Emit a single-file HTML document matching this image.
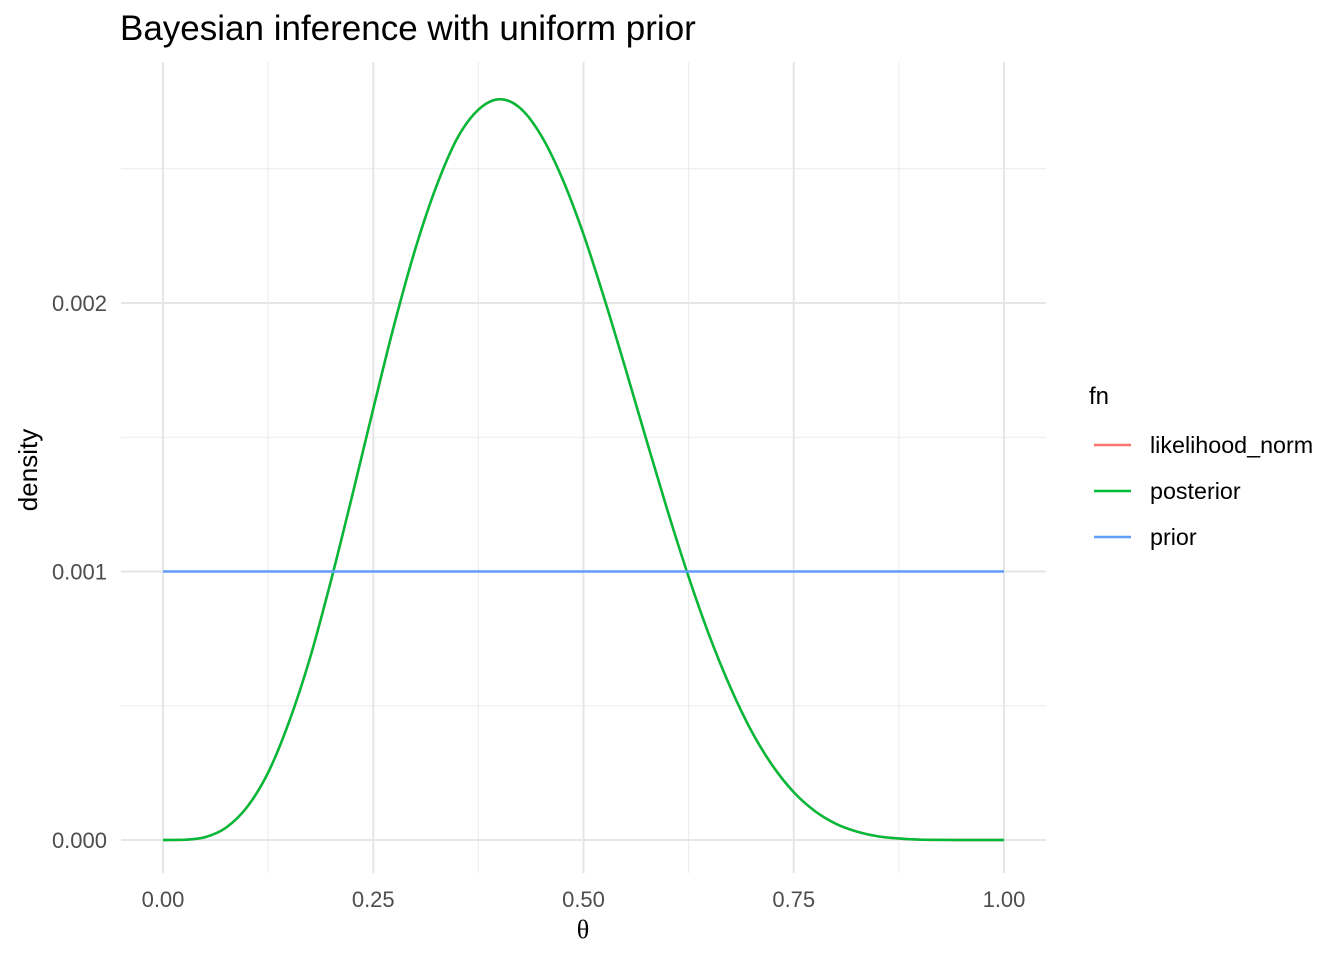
<!DOCTYPE html>
<html><head><meta charset="utf-8"><style>
body{margin:0;background:#fff}
svg text{font-family:"Liberation Sans",Arial,sans-serif}
</style></head><body>
<svg id="chart" width="1344" height="960" xmlns="http://www.w3.org/2000/svg">
<text x="120" y="40" font-size="35" fill="#000">Bayesian inference with uniform prior</text>
<g id="grid"></g>
<g id="ticks"></g>
<g id="series"></g>
<text x="583" y="938" font-size="26" text-anchor="middle" style="font-family:'Liberation Serif',serif">θ</text>
<text transform="translate(37,470) rotate(-90)" font-size="26" text-anchor="middle">density</text>
<g>
<text x="1089" y="404" font-size="24">fn</text>
<g><line x1="1094" x2="1131" y1="445" y2="445" stroke="#F8766D" stroke-width="2.5"/><text x="1150" y="453" font-size="23.3">likelihood_norm</text></g>
<g><line x1="1094" x2="1131" y1="491" y2="491" stroke="#00BA38" stroke-width="2.5"/><text x="1150" y="499" font-size="23.3">posterior</text></g>
<g><line x1="1094" x2="1131" y1="537" y2="537" stroke="#619CFF" stroke-width="2.5"/><text x="1150" y="545" font-size="23.3">prior</text></g>
</g>
</svg>
<script>
const thetaValues=[0,0.025,0.05,0.075,0.1,0.125,0.15,0.175,0.2,0.225,0.25,0.275,0.3,0.325,0.35,0.375,0.4,0.425,0.45,0.475,0.5,0.525,0.55,0.575,0.6,0.625,0.65,0.675,0.7,0.725,0.75,0.775,0.8,0.825,0.85,0.875,0.9,0.925,0.95,0.975,1];
const posteriorValues=[0,0.0000008,0.0000106,0.0000462,0.0001228,0.000251,0.000441,0.000680,0.000969,0.001283,0.001606,0.001920,0.002201,0.002434,0.002614,0.002720,0.002759,0.002725,0.002622,0.002462,0.002256,0.002014,0.001755,0.001488,0.001226,0.000980,0.000758,0.000566,0.000404,0.000276,0.000178,0.000108,0.0000606,0.0000313,0.0000137,0.0000055,0.0000015,0.0000003,0.00000003,0,0];
const likelihoodValues=posteriorValues.slice();
const priorValues=[0.001,0.001];
const priorTheta=[0,1];
const xTicks=[0,0.25,0.5,0.75,1];
const xTickLabels=["0.00","0.25","0.50","0.75","1.00"];
const yTicks=[0,0.001,0.002];
const yTickLabels=["0.000","0.001","0.002"];
const xMinor=[0.125,0.375,0.625,0.875];
const yMinor=[0.0005,0.0015,0.0025];

const X=v=>163+v*841;
const Y=v=>840-v*268500;
const NS="http://www.w3.org/2000/svg";
function mk(tag,attrs,parent){const e=document.createElementNS(NS,tag);for(const k in attrs)e.setAttribute(k,attrs[k]);parent.appendChild(e);return e;}
const grid=document.getElementById('grid'),ticks=document.getElementById('ticks'),series=document.getElementById('series');
const L=121,R=1046,T=62,B=873;
xMinor.forEach(v=>{const l=mk('line',{x1:X(v),x2:X(v),y1:T,y2:B,stroke:'#ebebeb','stroke-width':1},grid);

});
yMinor.forEach(v=>{const l=mk('line',{x1:L,x2:R,y1:Y(v),y2:Y(v),stroke:'#ebebeb','stroke-width':1},grid);

});
xTicks.forEach((v,i)=>{const l=mk('line',{x1:X(v),x2:X(v),y1:T,y2:B,stroke:'#e6e6e6','stroke-width':2},grid);


const t=mk('text',{x:X(v),y:907,'font-size':22,'text-anchor':'middle',fill:'#4d4d4d'},ticks);t.textContent=xTickLabels[i];

});
yTicks.forEach((v,i)=>{const l=mk('line',{x1:L,x2:R,y1:Y(v),y2:Y(v),stroke:'#e6e6e6','stroke-width':2},grid);


const t=mk('text',{x:107,y:Y(v)+8,'font-size':22,'text-anchor':'end',fill:'#4d4d4d'},ticks);t.textContent=yTickLabels[i];

});
function smoothPath(xs,ys){
 const p=xs.map((x,i)=>[X(x),Y(ys[i])]);let d=`M${p[0][0]},${p[0][1]}`;
 for(let i=0;i<p.length-1;i++){const p0=p[Math.max(0,i-1)],p1=p[i],p2=p[i+1],p3=p[Math.min(p.length-1,i+2)];
  let c1y=p1[1]+(p2[1]-p0[1])/6,c2y=p2[1]-(p3[1]-p1[1])/6;
  c1y=Math.min(c1y,840);c2y=Math.min(c2y,840);
  d+=` C${p1[0]+(p2[0]-p0[0])/6},${c1y} ${p2[0]-(p3[0]-p1[0])/6},${c2y} ${p2[0]},${p2[1]}`;}
 return d;}
const lk=mk('path',{d:smoothPath(thetaValues,likelihoodValues),fill:'none',stroke:'#F8766D','stroke-width':2.5},series);


const po=mk('path',{d:smoothPath(thetaValues,posteriorValues),fill:'none',stroke:'#00BA38','stroke-width':2.5},series);


const pr=mk('path',{d:`M${X(priorTheta[0])},${Y(priorValues[0])} L${X(priorTheta[1])},${Y(priorValues[1])}`,fill:'none',stroke:'#619CFF','stroke-width':2.5},series);


</script>
</body></html>
